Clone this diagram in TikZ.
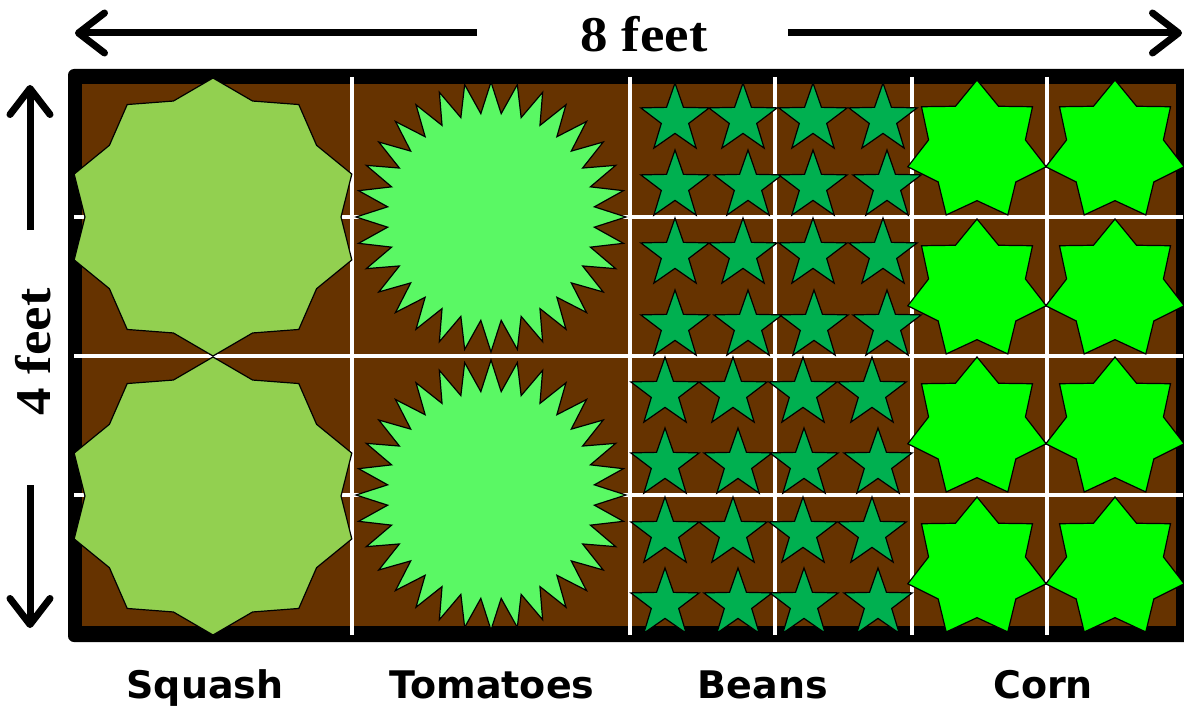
\documentclass[tikz,border=0pt]{standalone}
\usepackage{fontspec}
\usetikzlibrary{shapes.geometric,arrows.meta}
\newfontfamily\cropfont{DejaVu Sans}
\newfontfamily\sizefont{Liberation Serif}
\definecolor{soil}{RGB}{102,51,0}
\definecolor{squashgreen}{RGB}{146,208,80}
\definecolor{tomatogreen}{RGB}{90,248,100}
\definecolor{beangreen}{RGB}{0,176,80}
\definecolor{corngreen}{RGB}{0,255,0}

\begin{document}
\begin{tikzpicture}[x=1pt, y=-1pt,
      plant/.style={star, draw=black, line width=1.2pt, inner sep=0pt},
      squash/.style={plant, fill=squashgreen, star points=10,
                     star point ratio=1.14, minimum size=278pt},
      tomato/.style={plant, fill=tomatogreen, star points=32,
                     star point ratio=1.3, minimum size=270pt},
      bean/.style={plant, fill=beangreen, star points=5,
                   star point ratio=2.5, minimum size=72pt},
      corn/.style={plant, fill=corngreen, star points=7,
                   star point ratio=1.43, minimum size=142pt},
      gridline/.style={white, line width=4pt},
      dimarrow/.style={-{Straight Barb[length=26pt, width=40pt, round]},
                       line width=7pt},
      croplabel/.style={font=\cropfont\bfseries\fontsize{38}{40}\selectfont,
                        anchor=base},
      sizelabel/.style={font=\sizefont\bfseries\fontsize{50}{52}\selectfont,
                        anchor=base},
    ]
    \useasboundingbox (0,0) rectangle (1184,706);

    % Bed frame and soil
    \fill[black, rounded corners=6pt] (68,69) rectangle (1192,642);
    \fill[soil] (82,84) rectangle (1176,626);

    % Square-foot grid
    \foreach \x in {352,630,775,912,1047}
      \draw[gridline] (\x,77) -- (\x,635);
    \foreach \y in {217,356,495}
      \draw[gridline] (74,\y) -- (1183,\y);

    % Squash (a little wider than tall)
    \foreach \y [count=\r] in {217,496} {
      \begin{scope}[shift={(213,\y)}, xscale=1.05]
        \node[squash, transform shape] (squash\r) at (0,0) {};
      \end{scope}
    }

    % Tomatoes
    \node[tomato] (tomato1) at (491,217) {};
    \node[tomato] (tomato2) at (491,495) {};

    % Beans
    \foreach \y/\a/\b/\c/\d [count=\r] in
      {119/675/743/813/883, 186/675/748/813/887,
       254/675/743/813/883, 326/675/748/814/887,
       393/665/733/803/872, 464/665/738/804/878,
       533/665/733/803/872, 604/665/738/804/878} {
      \node[bean] (bean\r a) at (\a,\y) {};
      \node[bean] (bean\r b) at (\b,\y) {};
      \node[bean] (bean\r c) at (\c,\y) {};
      \node[bean] (bean\r d) at (\d,\y) {};
    }

    % Corn
    \foreach \y [count=\r] in {151,290,428,568} {
      \node[corn] (corn\r a) at (977,\y) {};
      \node[corn] (corn\r b) at (1115,\y) {};
    }

    % Width: 8 feet
    \node[sizelabel] (width) at (644,52) {\scalebox{1.1}[1]{8 feet}};
    \coordinate (wleft) at (75,33);
    \coordinate (wright) at (1182,33);
    \draw[dimarrow] (width.west |- wleft) ++(-100,0) -- (wleft);
    \draw[dimarrow] (width.east |- wright) ++(77,0) -- (wright);

    % Height: 4 feet
    \node[sizelabel, rotate=90] (height) at (50,352) {\scalebox{1.1}[1]{4 feet}};
    \coordinate (htop) at (30,85);
    \coordinate (hbottom) at (30,628);
    \draw[dimarrow] (30,230) -- (htop);
    \draw[dimarrow] (30,485) -- (hbottom);

    % Crop names
    \node[croplabel] (squashname) at (205,698) {Squash};
    \node[croplabel] (tomatoname) at (492,698) {Tomatoes};
    \node[croplabel] (beanname) at (763,698) {Beans};
    \node[croplabel] (cornname) at (1043,698) {Corn};

  \end{tikzpicture}
\end{document}
